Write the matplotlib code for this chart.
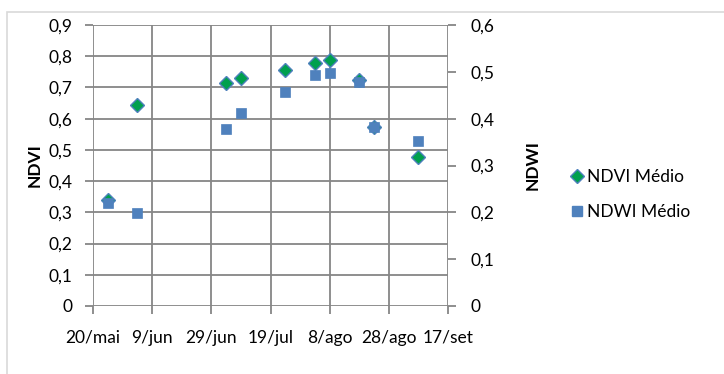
import matplotlib.pyplot as plt
from matplotlib.lines import Line2D
from matplotlib.patches import Rectangle

plt.rcParams['font.family'] = ['Lato', 'DejaVu Sans']

# days counted from 20/mai
days = [5, 15, 45, 50, 65, 75, 80, 90, 95, 110]
ndvi = [0.34, 0.643, 0.715, 0.730, 0.756, 0.777, 0.788, 0.724, 0.574, 0.478]
ndwi = [0.220, 0.198, 0.379, 0.413, 0.458, 0.493, 0.498, 0.479, 0.383, 0.353]

tick_days = [0, 20, 40, 60, 80, 100, 120]
tick_labels = ['20/mai', '9/jun', '29/jun', '19/jul', '8/ago', '28/ago', '17/set']

grid_col = '#868686'
green = '#00A04E'
blue = '#4F81BD'
fs = 12.5

fig = plt.figure(figsize=(7.24, 3.74), dpi=100)
fig.patches.append(Rectangle((7/724, -0.01), 1.0, 1 - 12/374 + 0.01, transform=fig.transFigure,
                             fill=False, edgecolor='#D9D9D9', linewidth=1.2))

ax = fig.add_axes([93/724, 1 - 306/374, (448 - 93)/724, (306 - 25)/374])
ax.plot(days, ndvi, linestyle='none', marker='D', markersize=7.2,
        markerfacecolor=green, markeredgecolor=blue, markeredgewidth=1.0, zorder=3)
ax.set_xlim(0, 120)
ax.set_ylim(0, 0.9)
ax.set_xticks(tick_days)
ax.set_xticklabels(tick_labels)
ax.set_yticks([i / 10 for i in range(10)])
ax.set_yticklabels(['0'] + ['0,%d' % i for i in range(1, 10)])
ax.grid(True, color=grid_col, linewidth=1.3)
ax.set_axisbelow(True)
for s in ax.spines.values():
    s.set_visible(False)
ax.tick_params(axis='both', colors=grid_col, labelcolor='black', labelsize=fs, length=6, width=1.3)
ax.tick_params(axis='y', pad=9)
ax.tick_params(axis='x', pad=11)
ax.set_ylabel('NDVI', fontweight='bold', fontsize=fs, labelpad=4)

ax2 = ax.twinx()
ax2.plot(days, ndwi, linestyle='none', marker='s', markersize=7.2,
         markerfacecolor=blue, markeredgecolor=blue, markeredgewidth=0.5, zorder=3)
ax2.set_ylim(0, 0.6)
ax2.set_yticks([i / 10 for i in range(7)])
ax2.set_yticklabels(['0'] + ['0,%d' % i for i in range(1, 7)])
for s in ax2.spines.values():
    s.set_visible(False)
ax2.tick_params(axis='y', colors=grid_col, labelcolor='black', labelsize=fs, length=6, width=1.3, pad=10)
ax2.set_ylabel('NDWI', fontweight='bold', fontsize=fs, labelpad=22)

handles = [
    Line2D([], [], linestyle='none', marker='D', markersize=7, markerfacecolor=green,
           markeredgecolor=blue, markeredgewidth=1.0, label='NDVI Médio'),
    Line2D([], [], linestyle='none', marker='s', markersize=6.5, markerfacecolor=blue,
           markeredgecolor=blue, label='NDWI Médio'),
]
fig.legend(handles=handles, loc='upper left', bbox_to_anchor=(0.768, 0.59), frameon=False,
           fontsize=fs, labelspacing=1.1, handlelength=0.6, handletextpad=0.3)

fig.savefig('out.png', dpi=100)
